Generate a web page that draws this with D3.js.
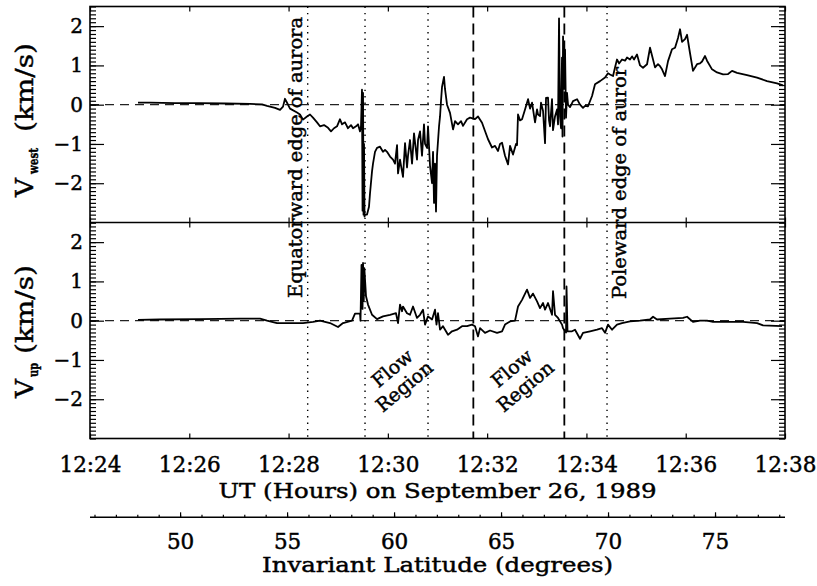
<!DOCTYPE html>
<html><head><meta charset="utf-8">
<script src="https://cdn.jsdelivr.net/npm/d3@7"></script>
<style>body{margin:0;background:#fff}svg{display:block}text{font-family:"DejaVu Serif",serif;fill:#000;stroke:#000;stroke-width:0.45px}</style>
</head><body><svg id="c" width="817" height="586"></svg>
<script>
// ---- data (time in minutes after 12:00 UT, velocities in km/s) ----
const timeTickMinutes = [24,26,28,30,32,34,36,38];
const timeTickLabels = ["12:24","12:26","12:28","12:30","12:32","12:34","12:36","12:38"];
const latMajorTicks = [50,55,60,65,70,75];
const velTicks = [-2,-1,0,1,2];
const dottedMarkers = [28.385, 29.540, 30.809, 34.415];
const dashedMarkers = [31.722, 33.555];

const westTime = [24.967,25.209,25.712,26.216,26.720,27.223,27.465,27.566,27.727,27.828,27.888,27.928,27.969,28.029,28.170,28.230,28.291,28.371,28.432,28.492,28.573,28.633,28.714,28.795,28.855,28.915,28.976,29.036,29.077,29.137,29.197,29.258,29.298,29.359,29.399,29.439,29.459,29.479,29.490,29.500,29.510,29.520,29.530,29.540,29.580,29.620,29.641,29.681,29.701,29.741,29.782,29.842,29.902,29.943,29.983,30.044,30.104,30.144,30.185,30.205,30.245,30.265,30.305,30.346,30.386,30.406,30.446,30.487,30.527,30.587,30.608,30.648,30.688,30.728,30.749,30.789,30.809,30.849,30.890,30.910,30.930,30.950,30.970,30.990,31.031,31.051,31.071,31.091,31.131,31.151,31.192,31.252,31.313,31.353,31.413,31.474,31.514,31.595,31.655,31.756,31.816,31.897,31.957,32.018,32.098,32.159,32.219,32.259,32.300,32.360,32.421,32.461,32.521,32.582,32.602,32.622,32.662,32.703,32.763,32.824,32.864,32.904,32.965,33.005,33.025,33.065,33.085,33.126,33.166,33.186,33.226,33.247,33.267,33.307,33.327,33.367,33.408,33.428,33.448,33.468,33.488,33.508,33.518,33.529,33.549,33.569,33.589,33.609,33.629,33.670,33.730,33.811,33.871,33.931,33.972,34.032,34.113,34.173,34.274,34.375,34.435,34.475,34.536,34.576,34.616,34.657,34.717,34.778,34.818,34.878,34.919,34.959,35.019,35.080,35.140,35.221,35.281,35.321,35.382,35.442,35.483,35.523,35.583,35.644,35.724,35.785,35.845,35.886,35.926,35.986,36.027,36.087,36.147,36.228,36.288,36.329,36.389,36.429,36.530,36.631,36.752,36.853,36.933,37.034,37.235,37.437,37.638,37.840,37.960];
const westVel = [0.05,0.05,0.04,0.04,0.03,0.02,0.01,-0.03,-0.08,-0.13,-0.05,0.15,0.05,-0.10,-0.20,-0.25,-0.38,-0.30,-0.25,-0.33,-0.45,-0.55,-0.52,-0.59,-0.68,-0.60,-0.55,-0.37,-0.50,-0.45,-0.60,-0.52,-0.60,-0.55,-0.50,-0.68,-0.55,0.38,-2.70,0.30,-2.80,-1.00,-2.85,-2.80,-2.80,-2.60,-2.25,-1.70,-1.50,-1.20,-1.10,-1.07,-1.20,-1.15,-1.20,-1.32,-1.40,-1.50,-1.03,-1.75,-1.40,-1.55,-1.84,-0.98,-1.60,-1.30,-0.90,-1.50,-0.73,-1.40,-0.90,-0.68,-1.30,-0.50,-1.00,-1.10,-0.55,-1.55,-2.00,-1.20,-2.50,-1.50,-2.72,-1.30,-0.55,-0.30,0.10,0.45,0.71,0.40,0.00,-0.21,-0.63,-0.42,-0.50,-0.42,-0.54,-0.37,-0.33,-0.37,-0.30,-0.46,-0.67,-0.88,-1.09,-1.05,-1.18,-1.00,-0.97,-1.30,-1.52,-1.05,-1.27,-1.00,-1.03,-0.25,-0.40,-0.37,-0.12,0.14,-0.10,0.05,-0.45,-0.12,-0.25,-0.29,0.05,-0.16,-0.98,0.17,0.18,-0.40,-0.55,0.14,-0.65,-0.30,-0.12,-0.50,2.20,-0.30,-0.60,1.20,-0.81,1.74,0.40,1.40,-0.33,0.30,0.00,-0.06,0.09,0.14,0.00,-0.08,-0.03,-0.04,0.22,0.52,0.60,0.69,0.80,0.77,0.73,0.95,1.15,1.05,1.15,1.12,1.20,1.15,1.23,1.15,1.28,1.00,0.94,1.03,1.45,1.25,0.95,1.03,0.98,0.90,0.73,1.11,1.41,1.45,1.70,1.92,1.60,1.67,1.78,1.31,0.86,1.03,1.05,1.10,1.24,1.12,0.90,0.82,0.77,0.78,0.86,0.81,0.75,0.69,0.60,0.54,0.49];

const upTime = [24.967,25.410,26.216,27.022,27.425,27.566,27.767,28.029,28.291,28.492,28.633,28.835,28.996,29.097,29.278,29.338,29.439,29.449,29.469,29.490,29.500,29.514,29.526,29.560,29.600,29.681,29.782,29.902,30.044,30.164,30.205,30.245,30.285,30.305,30.386,30.446,30.507,30.587,30.648,30.708,30.749,30.809,30.890,30.950,30.980,31.010,31.051,31.111,31.212,31.292,31.393,31.494,31.595,31.695,31.756,31.816,31.857,31.957,32.058,32.199,32.300,32.360,32.461,32.562,32.622,32.703,32.803,32.864,32.924,33.005,33.065,33.126,33.166,33.226,33.307,33.327,33.367,33.428,33.508,33.529,33.589,33.599,33.619,33.710,33.770,33.871,33.931,34.073,34.214,34.314,34.375,34.435,34.516,34.616,34.717,34.878,35.080,35.281,35.342,35.422,35.684,35.946,36.027,36.147,36.288,36.429,36.550,36.893,37.155,37.437,37.558,37.940];
const upVel = [0.02,0.03,0.04,0.05,0.05,0.00,-0.06,-0.06,-0.06,-0.03,0.00,-0.06,-0.16,-0.06,0.00,0.18,0.18,0.00,1.42,0.30,1.47,0.50,1.34,0.62,0.41,0.15,0.04,0.11,0.15,0.19,-0.06,0.41,0.24,0.36,0.19,0.15,0.36,0.07,0.15,0.28,-0.10,0.11,0.03,0.28,-0.10,0.19,-0.23,-0.14,-0.36,-0.27,-0.23,-0.14,-0.14,-0.10,-0.14,-0.40,-0.19,-0.31,-0.25,-0.31,-0.27,-0.10,-0.02,0.00,0.36,0.53,0.79,0.58,0.69,0.49,0.32,0.45,0.28,0.45,0.15,0.75,0.15,0.07,-0.10,-0.19,-0.30,0.87,-0.27,-0.27,-0.23,-0.46,-0.31,-0.27,-0.23,-0.19,-0.31,-0.10,-0.23,-0.10,-0.06,-0.02,0.00,0.03,0.10,0.03,0.05,0.07,0.10,-0.03,0.00,0.00,-0.03,-0.03,-0.03,-0.06,-0.12,-0.14];

// ---- layout ----
const svg = d3.select("#c");
const X0 = 90, X1 = 785, TOP = 6.5, MID = 222.5, BOT = 438.5;
const FONT = '"DejaVu Serif", serif';
const x = d3.scaleLinear().domain([24, 38]).range([X0, X1]);
const yW = d3.scaleLinear().domain([-3, 2.5]).range([MID, TOP]);
const yU = d3.scaleLinear().domain([-3, 2.5]).range([BOT, MID]);
const lat = d3.scaleLinear().domain([45.79, 78.27]).range([X0, X1]);
const minorV = d3.range(-30, 26).map(d => d / 10);
const fmtV = d => d < 0 ? "\u2212" + (-d) : String(d);

function styleAxis(g, size) {
  g.select(".domain").remove();
  g.attr("font-family", FONT).attr("font-size", size || 10);
  g.selectAll("line").attr("stroke", "#000").attr("stroke-width", 1.2);
  g.selectAll("text").attr("fill", "#000");
}

// zero lines
[yW, yU].forEach(y => {
  svg.append("line").attr("x1", X0).attr("x2", X1).attr("y1", y(0)).attr("y2", y(0))
    .attr("stroke", "#222").attr("stroke-width", 1.2).attr("stroke-dasharray", "9,6");
});

// event marker lines
dottedMarkers.forEach(t => {
  svg.append("line").attr("x1", x(t)).attr("x2", x(t)).attr("y1", TOP).attr("y2", BOT)
    .attr("stroke", "#000").attr("stroke-width", 1.4).attr("stroke-dasharray", "1.4,5");
});
dashedMarkers.forEach(t => {
  svg.append("line").attr("x1", x(t)).attr("x2", x(t)).attr("y1", TOP).attr("y2", BOT)
    .attr("stroke", "#000").attr("stroke-width", 1.8).attr("stroke-dasharray", "11,6");
});

// data traces
const westData = westTime.map((t, i) => [t, westVel[i]]);
const upData = upTime.map((t, i) => [t, upVel[i]]);
svg.append("path").datum(westData)
  .attr("d", d3.line().x(d => x(d[0])).y(d => yW(d[1])))
  .attr("fill", "none").attr("stroke", "#000").attr("stroke-width", 1.8).attr("stroke-linejoin", "round");
svg.append("path").datum(upData)
  .attr("d", d3.line().x(d => x(d[0])).y(d => yU(d[1])))
  .attr("fill", "none").attr("stroke", "#000").attr("stroke-width", 1.8).attr("stroke-linejoin", "round");

// frames
svg.append("rect").attr("x", X0).attr("y", TOP).attr("width", X1 - X0).attr("height", BOT - TOP)
  .attr("fill", "none").attr("stroke", "#000").attr("stroke-width", 1.6);
svg.append("line").attr("x1", X0).attr("x2", X1).attr("y1", MID).attr("y2", MID)
  .attr("stroke", "#000").attr("stroke-width", 1.6);

// y axes (both panels)
[yW, yU].forEach(y => {
  svg.append("g").attr("transform", `translate(${X0},0)`)
    .call(d3.axisRight(y).tickValues(minorV).tickSize(6).tickFormat("")).call(styleAxis);
  svg.append("g").attr("transform", `translate(${X0},0)`)
    .call(d3.axisRight(y).tickValues(velTicks).tickSize(14).tickFormat("")).call(styleAxis);
  svg.append("g").attr("transform", `translate(${X1},0)`)
    .call(d3.axisLeft(y).tickValues(minorV).tickSize(6).tickFormat("")).call(styleAxis);
  svg.append("g").attr("transform", `translate(${X1},0)`)
    .call(d3.axisLeft(y).tickValues(velTicks).tickSize(14).tickFormat("")).call(styleAxis);
  svg.append("g").attr("transform", `translate(${X0 - 7},0)`)
    .call(d3.axisLeft(y).tickValues(velTicks).tickSize(0).tickPadding(0).tickFormat(fmtV))
    .call(g => styleAxis(g, 20));
});

// x ticks on panel edges
svg.append("g").attr("transform", `translate(0,${TOP})`)
  .call(d3.axisBottom(x).tickValues(timeTickMinutes).tickSize(5).tickFormat("")).call(styleAxis);
svg.append("g").attr("transform", `translate(0,${MID})`)
  .call(d3.axisTop(x).tickValues(timeTickMinutes).tickSize(5).tickFormat("")).call(styleAxis);
svg.append("g").attr("transform", `translate(0,${MID})`)
  .call(d3.axisBottom(x).tickValues(timeTickMinutes).tickSize(5).tickFormat("")).call(styleAxis);
svg.append("g").attr("transform", `translate(0,${BOT})`)
  .call(d3.axisTop(x).tickValues(timeTickMinutes).tickSize(5).tickFormat("")).call(styleAxis);
svg.append("g").attr("transform", `translate(0,${BOT})`)
  .call(d3.axisBottom(x).tickValues(timeTickMinutes).tickSize(0).tickPadding(18)
    .tickFormat((d, i) => timeTickLabels[i])).call(g => styleAxis(g, 21.5));

// latitude axis
const LATY = 517.3;
svg.append("line").attr("x1", X0).attr("x2", X1).attr("y1", LATY).attr("y2", LATY)
  .attr("stroke", "#000").attr("stroke-width", 1.5);
svg.append("g").attr("transform", `translate(0,${LATY})`)
  .call(d3.axisTop(lat).tickValues(d3.range(46, 79)).tickSize(2.5).tickFormat("")).call(styleAxis);
svg.append("g").attr("transform", `translate(0,${LATY})`)
  .call(d3.axisTop(lat).tickValues(latMajorTicks).tickSize(5).tickFormat("")).call(styleAxis);
svg.append("g").attr("transform", `translate(0,${LATY})`)
  .call(d3.axisBottom(lat).tickValues(latMajorTicks).tickSize(0).tickPadding(16.5).tickFormat(d3.format("d")))
  .call(g => styleAxis(g, 21.5));

// axis titles
function txt(x0, y0, rot, s, size, len, anchor) {
  const t = svg.append("text").attr("transform", `translate(${x0},${y0}) rotate(${rot})`)
    .attr("font-size", size).attr("text-anchor", anchor || "start").text(s);
  if (len) t.attr("textLength", len).attr("lengthAdjust", "spacingAndGlyphs");
  return t;
}
txt(437.5, 498, 0, "UT (Hours) on September 26, 1989", 21, 438, "middle");
txt(437.5, 572, 0, "Invariant Latitude (degrees)", 21, 351, "middle");

txt(33, 197, -90, "V", 25, 19);
txt(37.5, 174, -90, "west", 13, 26).attr("font-weight", "bold");
txt(33, 132, -90, "(km/s)", 25, 89);
txt(33, 398, -90, "V", 25, 19);
txt(37.5, 377, -90, "up", 13, 14).attr("font-weight", "bold");
txt(33, 354, -90, "(km/s)", 25, 89);

// annotations
txt(302, 298, -90, "Equatorward edge of aurora", 19, 281);
txt(626, 299, -90, "Poleward edge of auror", 19, 232);
[[392, 368, "Flow"], [404, 386, "Region"], [511.5, 368, "Flow"], [525, 386, "Region"]].forEach(([a, b, s]) => {
  txt(a, b, -40, s, 19, null, "middle").attr("dominant-baseline", "central");
});
</script></body></html>
